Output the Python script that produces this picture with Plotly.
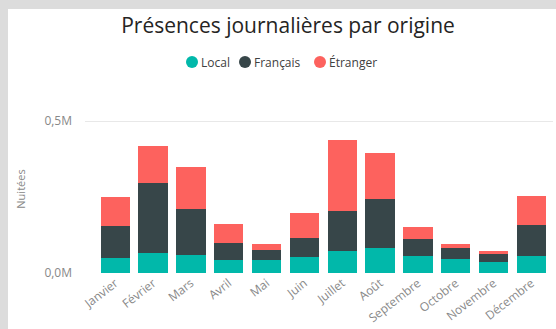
import plotly.graph_objects as go

# Monthly overnight stays by visitor origin
months = ["Janvier", "Février", "Mars", "Avril", "Mai", "Juin", "Juillet",
          "Août", "Septembre", "Octobre", "Novembre", "Décembre"]
local = [51000, 66000, 60000, 42000, 42000, 53000, 71000, 84000, 55000, 46000, 36000, 55000]
francais = [105000, 231000, 151000, 57000, 35000, 63000, 134000, 161000, 57000, 37000, 25000, 103000]
etranger = [96000, 120000, 138000, 63000, 20000, 82000, 232000, 152000, 41000, 12000, 13000, 97000]

series_names = ["Local", "Français", "Étranger"]
series_values = [local, francais, etranger]
series_colors = ["#01B8AA", "#374649", "#FD625E"]

y_tick_vals = [0, 500000]
y_tick_text = ["0,0M", "0,5M"]

FONT = "Open Sans, Noto Sans, sans-serif"

fig = go.Figure()
for name, vals, color in zip(series_names, series_values, series_colors):
    fig.add_trace(go.Bar(x=months, y=vals, name=name, marker_color=color,
                         marker_line_width=0, showlegend=False))

L, R, T, B = 85, 3, 105, 56
W, H = 556, 329
pw, ph = W - L - R, H - T - B

def px_x(p):
    return (p - L) / pw

def px_y(p):
    return (H - B - p) / ph

# White card over a light grey frame
shapes = [dict(type="rect", xref="paper", yref="paper", layer="below",
               x0=px_x(8), x1=px_x(W + 5), y0=px_y(H + 5), y1=px_y(9),
               fillcolor="white", line_width=0)]
annotations = []

# Compact legend with round swatches
legend_y = 62
dot_r = 6
legend_dot_x = [192, 245, 320]
for name, color, cx in zip(series_names, series_colors, legend_dot_x):
    shapes.append(dict(type="circle", xref="paper", yref="paper",
                       x0=px_x(cx - dot_r), x1=px_x(cx + dot_r),
                       y0=px_y(legend_y + dot_r), y1=px_y(legend_y - dot_r),
                       fillcolor=color, line_width=0))
    annotations.append(dict(text=name, xref="paper", yref="paper",
                            x=px_x(cx + dot_r + 1), y=px_y(legend_y),
                            xanchor="left", yanchor="middle", showarrow=False,
                            font=dict(size=12, color="#404040", family=FONT)))

fig.update_layout(
    width=W, height=H,
    margin=dict(l=L, r=R, t=T, b=B, pad=0),
    barmode="stack", bargap=0.225,
    showlegend=False,
    paper_bgcolor="#DCDCDC", plot_bgcolor="rgba(0,0,0,0)",
    font=dict(family=FONT, color="#888888"),
    title=dict(text="Présences journalières par origine", x=288 / W, xanchor="center",
               y=1 - 26 / H, yanchor="middle", yref="container",
               font=dict(size=21, color="#252423", family=FONT)),
    shapes=shapes,
    annotations=annotations,
    xaxis=dict(range=[-0.8, 11.57], tickangle=-38, showgrid=False, showline=False,
               ticks="", tickfont=dict(size=12, color="#888888"), fixedrange=True),
    yaxis=dict(range=[0, 553700], tickvals=y_tick_vals, ticktext=y_tick_text,
               showgrid=True, gridcolor="#E8E8E8", gridwidth=1, zeroline=False,
               ticks="", ticklabelstandoff=12, tickfont=dict(size=12, color="#888888"),
               title=dict(text="Nuitées", font=dict(size=11, color="#888888"), standoff=16)),
)

fig.write_html("out.html")
